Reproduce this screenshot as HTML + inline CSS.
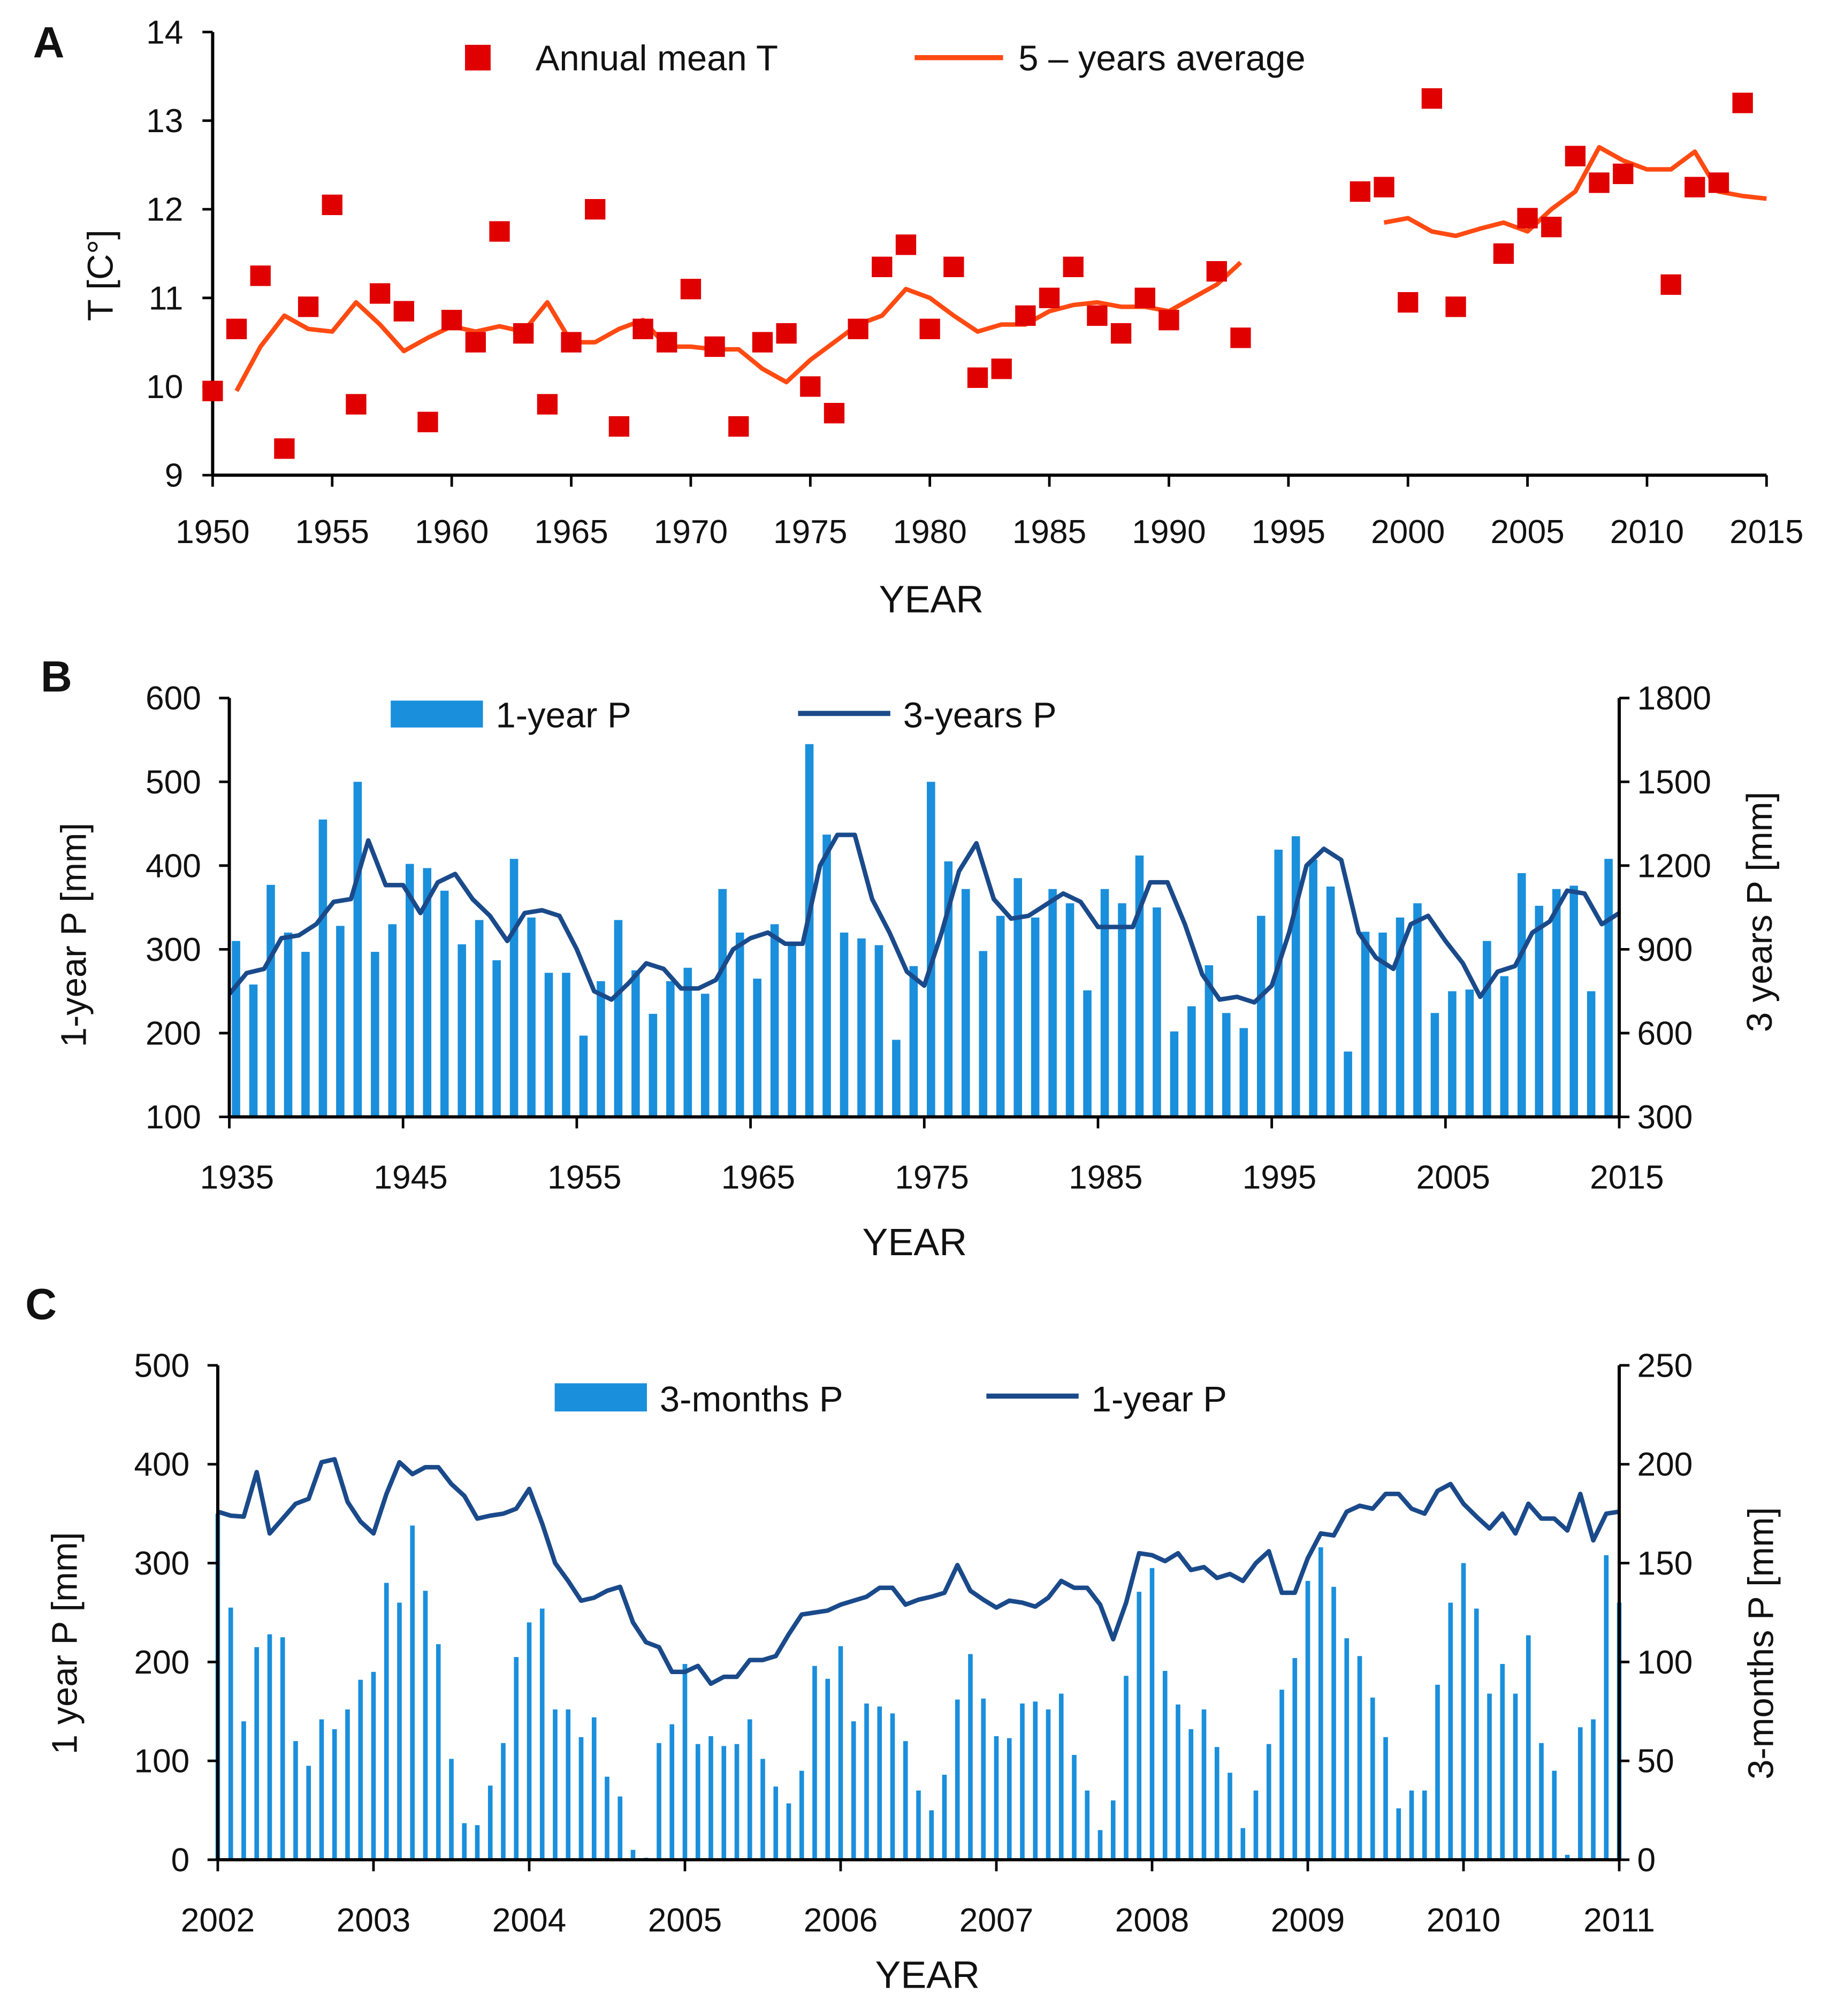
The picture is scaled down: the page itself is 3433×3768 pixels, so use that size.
<!DOCTYPE html>
<html><head><meta charset="utf-8"><style>
html,body{margin:0;padding:0;background:#fff}
svg{display:block}
text{font-family:"Liberation Sans",sans-serif;fill:#111}
</style></head><body>
<svg id="fig" width="3433" height="3768" viewBox="0 0 1434 1574" preserveAspectRatio="none" xmlns="http://www.w3.org/2000/svg">
<g id="pA"></g>
<g id="pB"></g>
<g id="pC"></g>
</svg>
<script>
const aYears=[1950,1951,1952,1953,1954,1955,1956,1957,1958,1959,1960,1961,1962,1963,1964,1965,1966,1967,1968,1969,1970,1971,1972,1973,1974,1975,1976,1977,1978,1979,1980,1981,1982,1983,1984,1985,1986,1987,1988,1989,1990,1992,1993,1998,1999,2000,2001,2002,2004,2005,2006,2007,2008,2009,2011,2012,2013,2014];
const aTemp=[9.95,10.65,11.25,9.3,10.9,12.05,9.8,11.05,10.85,9.6,10.75,10.5,11.75,10.6,9.8,10.5,12.0,9.55,10.65,10.5,11.1,10.45,9.55,10.5,10.6,10.0,9.7,10.65,11.35,11.6,10.65,11.35,10.1,10.2,10.8,11.0,11.35,10.8,10.6,11.0,10.75,11.3,10.55,12.2,12.25,10.95,13.25,10.9,11.5,11.9,11.8,12.6,12.3,12.4,11.15,12.25,12.3,13.2];
const avg1Start=1951;
const avg1=[9.95,10.45,10.8,10.65,10.62,10.95,10.7,10.4,10.55,10.68,10.62,10.68,10.62,10.95,10.5,10.5,10.65,10.75,10.45,10.45,10.42,10.42,10.2,10.05,10.3,10.5,10.7,10.8,11.1,11.0,10.8,10.62,10.7,10.7,10.85,10.92,10.95,10.9,10.9,10.85,11.0,11.15,11.4];
const avg2Start=1999;
const avg2=[11.85,11.9,11.75,11.7,11.78,11.85,11.75,12.0,12.2,12.7,12.55,12.45,12.45,12.65,12.2,12.15,12.12];
const aYTicks=[9,10,11,12,13,14];
const aXTicks=[1950,1955,1960,1965,1970,1975,1980,1985,1990,1995,2000,2005,2010,2015];

const bStart=1935;
const bBars=[310,258,377,320,297,455,328,500,297,330,402,397,370,306,335,287,408,338,272,272,197,262,335,275,223,262,278,247,372,320,265,330,305,545,437,320,313,305,192,280,500,405,372,298,340,385,338,372,355,251,372,355,412,350,202,232,281,224,206,340,419,435,407,375,178,321,320,338,355,224,250,252,310,268,391,352,372,376,250,408];
const bLine=[740,815,830,940,950,990,1070,1080,1290,1130,1130,1030,1140,1170,1080,1020,930,1030,1040,1020,900,750,720,780,850,830,760,760,790,900,940,960,920,920,1200,1310,1310,1080,960,820,770,960,1180,1280,1080,1010,1020,1060,1100,1070,980,980,980,1140,1140,990,810,720,730,710,770,960,1200,1260,1220,960,870,830,990,1020,930,850,730,820,840,960,1000,1110,1100,990,1030];
const bLTicks=[100,200,300,400,500,600];
const bRTicks=[300,600,900,1200,1500,1800];
const bXTicks=[1935,1945,1955,1965,1975,1985,1995,2005,2015];

const cBars=[350,255,140,215,228,225,120,95,142,132,152,182,190,280,260,338,272,218,102,37,35,75,118,205,240,254,152,152,124,144,84,64,10,2,118,137,198,117,125,115,117,142,102,74,57,90,196,183,216,140,158,155,148,120,70,50,86,162,208,163,125,123,158,160,152,168,106,70,30,60,186,271,295,191,157,132,152,114,88,32,70,117,172,204,282,316,276,224,206,164,124,52,70,70,177,260,300,254,168,198,168,227,118,90,5,134,142,308,260];
const cLine=[352,348,347,392,330,345,360,365,402,405,362,342,330,370,402,390,397,397,380,368,345,348,350,355,375,340,300,282,262,265,272,276,240,220,215,190,190,196,178,185,185,202,202,206,228,248,250,252,258,262,266,275,275,258,263,266,270,298,272,263,255,262,260,256,265,282,275,275,258,223,260,310,308,302,310,293,296,285,289,282,300,312,270,270,305,330,328,352,358,355,370,370,355,350,373,380,360,347,335,350,330,360,345,345,333,370,323,350,352];
const cLTicks=[0,100,200,300,400,500];
const cRTicks=[0,50,100,150,200,250];
const cXTicks=[2002,2003,2004,2005,2006,2007,2008,2009,2010,2011];

const NS='http://www.w3.org/2000/svg';
function el(parent,tag,attrs,txt){const e=document.createElementNS(NS,tag);for(const k in attrs)e.setAttribute(k,attrs[k]);if(txt!==undefined)e.textContent=txt;parent.appendChild(e);return e;}
function lin(d0,d1,r0,r1){return v=>r0+(v-d0)*(r1-r0)/(d1-d0);}
const AX='#000';

// ---------- Panel A ----------
(function(){
const g=document.getElementById('pA');
const x=lin(1950,2015,166,1379), y=lin(9,14,371,25);
let t=el(g,'text',{x:38,y:45,'font-size':34,'font-weight':'bold','text-anchor':'middle'},'A');


let a=el(g,'line',{x1:166,y1:25,x2:166,y2:371,stroke:AX,'stroke-width':2.5});


a=el(g,'line',{x1:166,y1:371,x2:1379,y2:371,stroke:AX,'stroke-width':2.5});


aYTicks.forEach(v=>{
 el(g,'line',{x1:158,y1:y(v),x2:166,y2:y(v),stroke:AX,'stroke-width':2});
 const l=el(g,'text',{x:143,y:y(v)+9,'font-size':26,'text-anchor':'end'},v);
 
 
});
aXTicks.forEach(v=>{
 el(g,'line',{x1:x(v),y1:371,x2:x(v),y2:380,stroke:AX,'stroke-width':2});
 const l=el(g,'text',{x:x(v),y:424,'font-size':26,'text-anchor':'middle'},v);
 
 
});
t=el(g,'text',{x:727,y:478,'font-size':30,'text-anchor':'middle'},'YEAR');


t=el(g,'text',{x:0,y:0,'font-size':28,'text-anchor':'middle',transform:'translate(88,215) rotate(-90)'},'T [C°]');


[[avg1Start,avg1],[avg2Start,avg2]].forEach(([s,arr],k)=>{
 const p=el(g,'polyline',{points:arr.map((v,i)=>x(s+i)+','+y(v)).join(' '),fill:'none',stroke:'#ff4a12','stroke-width':3.5,'stroke-linejoin':'round'});
 
 
});
aYears.forEach((yr,i)=>{
 const r=el(g,'rect',{x:x(yr)-8,y:y(aTemp[i])-8,width:16,height:16,fill:'#e00000'});
 
 
});
const lg=el(g,'g',{});


el(lg,'rect',{x:363,y:35,width:20,height:20,fill:'#e00000'});
el(lg,'text',{x:418,y:55,'font-size':28},'Annual mean T');
el(lg,'line',{x1:714,y1:45,x2:783,y2:45,stroke:'#ff4a12','stroke-width':4});
el(lg,'text',{x:795,y:55,'font-size':28},'5 – years average');
})();

// ---------- Panel B ----------
(function(){
const g=document.getElementById('pB');
const x=lin(1935,2015,179,1264), yl=lin(100,600,872,545), yr=lin(300,1800,872,545);
let t=el(g,'text',{x:44,y:540,'font-size':34,'font-weight':'bold','text-anchor':'middle'},'B');


bBars.forEach((v,i)=>{
 const r=el(g,'rect',{x:x(bStart+i)+2,y:yl(v),width:6.5,height:872-yl(v),fill:'#1a8fdc'});
 
 
});
const p=el(g,'polyline',{points:bLine.map((v,i)=>x(bStart+i)+','+yr(v)).join(' '),fill:'none',stroke:'#1a4a8a','stroke-width':3.5,'stroke-linejoin':'round'});


[[179,'left-y-axis'],[1264,'right-y-axis']].forEach(([xx,n])=>{
 const a=el(g,'line',{x1:xx,y1:545,x2:xx,y2:872,stroke:AX,'stroke-width':2.5});
 
 
});
let a=el(g,'line',{x1:179,y1:872,x2:1264,y2:872,stroke:AX,'stroke-width':2.5});


bLTicks.forEach(v=>{
 el(g,'line',{x1:171,y1:yl(v),x2:179,y2:yl(v),stroke:AX,'stroke-width':2});
 const l=el(g,'text',{x:157,y:yl(v)+9,'font-size':26,'text-anchor':'end'},v);
 
 
});
bRTicks.forEach(v=>{
 el(g,'line',{x1:1264,y1:yr(v),x2:1272,y2:yr(v),stroke:AX,'stroke-width':2});
 const l=el(g,'text',{x:1278,y:yr(v)+9,'font-size':26},v);
 
 
});
bXTicks.forEach(v=>{
 el(g,'line',{x1:x(v),y1:872,x2:x(v),y2:881,stroke:AX,'stroke-width':2});
 const l=el(g,'text',{x:x(v)+6,y:928,'font-size':26,'text-anchor':'middle'},v);
 
 
});
t=el(g,'text',{x:714,y:980,'font-size':30,'text-anchor':'middle'},'YEAR');


t=el(g,'text',{x:0,y:0,'font-size':28,'text-anchor':'middle',transform:'translate(67,730) rotate(-90)'},'1-year P [mm]');


t=el(g,'text',{x:0,y:0,'font-size':28,'text-anchor':'middle',transform:'translate(1383,712) rotate(-90)'},'3 years P [mm]');


const lg=el(g,'g',{});


el(lg,'rect',{x:305,y:547,width:72,height:21,fill:'#1a8fdc'});
el(lg,'text',{x:387,y:568,'font-size':28},'1-year P');
el(lg,'line',{x1:623,y1:557,x2:695,y2:557,stroke:'#1a4a8a','stroke-width':4});
el(lg,'text',{x:705,y:568,'font-size':28},'3-years P');
})();

// ---------- Panel C ----------
(function(){
const g=document.getElementById('pC');
const x=lin(0,108,170,1264), yl=lin(0,500,1452,1066), yr=lin(0,250,1452,1066);
let t=el(g,'text',{x:32,y:1030,'font-size':34,'font-weight':'bold','text-anchor':'middle'},'C');


cBars.forEach((v,i)=>{
 const r=el(g,'rect',{x:x(i)-1.8,y:yl(v),width:3.6,height:1452-yl(v),fill:'#1a8fdc'});
 
 
});
const p=el(g,'polyline',{points:cLine.map((v,i)=>x(i)+','+yl(v)).join(' '),fill:'none',stroke:'#1a4a8a','stroke-width':3.5,'stroke-linejoin':'round'});


[[170,'left-y-axis'],[1264,'right-y-axis']].forEach(([xx,n])=>{
 const a=el(g,'line',{x1:xx,y1:1066,x2:xx,y2:1452,stroke:AX,'stroke-width':2.5});
 
 
});
let a=el(g,'line',{x1:170,y1:1452,x2:1264,y2:1452,stroke:AX,'stroke-width':2.5});


cLTicks.forEach(v=>{
 el(g,'line',{x1:162,y1:yl(v),x2:170,y2:yl(v),stroke:AX,'stroke-width':2});
 const l=el(g,'text',{x:148,y:yl(v)+9,'font-size':26,'text-anchor':'end'},v);
 
 
});
cRTicks.forEach(v=>{
 el(g,'line',{x1:1264,y1:yr(v),x2:1272,y2:yr(v),stroke:AX,'stroke-width':2});
 const l=el(g,'text',{x:1278,y:yr(v)+9,'font-size':26},v);
 
 
});
cXTicks.forEach((v,k)=>{
 const xx=x(k*12);
 el(g,'line',{x1:xx,y1:1452,x2:xx,y2:1461,stroke:AX,'stroke-width':2});
 const l=el(g,'text',{x:xx,y:1508,'font-size':26,'text-anchor':'middle'},v);
 
 
});
t=el(g,'text',{x:724,y:1552,'font-size':30,'text-anchor':'middle'},'YEAR');


t=el(g,'text',{x:0,y:0,'font-size':28,'text-anchor':'middle',transform:'translate(60,1283) rotate(-90)'},'1 year P [mm]');


t=el(g,'text',{x:0,y:0,'font-size':28,'text-anchor':'middle',transform:'translate(1384,1283) rotate(-90)'},'3-months P [mm]');


const lg=el(g,'g',{});


el(lg,'rect',{x:433,y:1080,width:72,height:22,fill:'#1a8fdc'});
el(lg,'text',{x:515,y:1102,'font-size':28},'3-months P');
el(lg,'line',{x1:770,y1:1090,x2:842,y2:1090,stroke:'#1a4a8a','stroke-width':4});
el(lg,'text',{x:852,y:1102,'font-size':28},'1-year P');
})();
</script>
</body></html>
